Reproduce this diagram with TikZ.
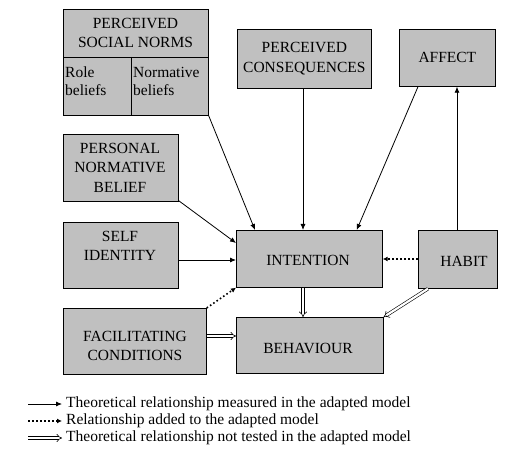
\documentclass[tikz,border=0pt]{standalone}
\usepackage{fontspec}
\newfontfamily\libser{Liberation Serif}
\usetikzlibrary{arrows.meta}
\begin{document}
\begin{tikzpicture}[x=1pt,y=-1pt,
  box/.style={draw=black, line width=0.7pt, fill=boxgray, anchor=north west, inner sep=0pt},
  txt/.style={font=\libser\fontsize{15.5}{19.5}\selectfont, align=center, inner sep=0pt},
  ltxt/.style={font=\libser\fontsize{15.5}{18}\selectfont, align=left, inner sep=0pt, anchor=west},
  solidarr/.style={line width=0.8pt, -{Latex[length=6pt,width=5pt]}},
  dotarr/.style={line width=1.6pt, dash pattern=on 1.6pt off 2.4pt, -{Latex[length=5pt,width=5pt]}},
  dblarr/.style={double, double distance=2.2pt, line width=0.6pt, -{Implies[length=5pt]}}]
\definecolor{boxgray}{RGB}{192,192,192}
\useasboundingbox (0,0) rectangle (527,470);
% boxes
\node[box, minimum width=145pt, minimum height=106pt] (psn) at (63,9) {};
\draw[line width=0.7pt] (63,57) coordinate (d1) -- (208,57) coordinate (d2);
\draw[line width=0.7pt] (131,57) coordinate (d3) -- (131,115) coordinate (d4);
\node[txt] (psnt) at (135.5,33) {PERCEIVED\\SOCIAL NORMS};
\node[ltxt] (role) at (65,81) {Role\\beliefs};
\node[ltxt] (norm) at (133,81) {Normative\\beliefs};

\node[box, minimum width=134pt, minimum height=59pt] (pc) at (237,29) {};
\node[txt] (pct) at (pc.center) {PERCEIVED\\CONSEQUENCES};

\node[box, minimum width=96pt, minimum height=57pt] (aff) at (399,29) {};
\node[txt] (afft) at (aff.center) {AFFECT};

\node[box, minimum width=115pt, minimum height=67pt] (pnb) at (63,134) {};
\node[txt] (pnbt) at (120,167.5) {PERSONAL\\NORMATIVE\\BELIEF};

\node[box, minimum width=115pt, minimum height=66pt] (si) at (63,222) {};
\node[txt] (sit) at (120,246) {SELF\\IDENTITY};

\node[box, minimum width=146pt, minimum height=57pt] (int) at (236,230) {};
\node[txt] (intt) at (308,260) {INTENTION};

\node[box, minimum width=79pt, minimum height=58pt] (hab) at (418,230) {};
\node[txt] (habt) at (464,261) {HABIT};

\node[box, minimum width=143pt, minimum height=66pt] (fc) at (63,308) {};
\node[txt] (fct) at (135,346) {FACILITATING\\CONDITIONS};

\node[box, minimum width=147pt, minimum height=56pt] (beh) at (236,317) {};
\node[txt] (beht) at (308,348) {BEHAVIOUR};

% connectors
\draw[solidarr] (psn.south east) -- ([xshift=19pt]int.north west);
\draw[solidarr] ([yshift=1pt]pnb.south east) -- ([yshift=-13pt]int.north west);
\draw[solidarr] (si.east |- 0,260) -- (int.west |- 0,260);
\draw[solidarr] (pc.south -| 303,0) -- (int.north -| 303,0);
\draw[solidarr] ([xshift=19pt]aff.south west) -- ([xshift=-26pt]int.north east);
\draw[solidarr] (hab.north -| 457,0) -- (aff.south -| 457,0);
\draw[dotarr] (hab.west |- 0,259) -- (int.east |- 0,259);
\draw[dotarr] (fc.north east) -- (int.south west);
\draw[dblarr] (int.south -| 303,0) -- (beh.north -| 303,0);
\draw[dblarr] ([xshift=10pt]hab.south west) -- (beh.north east);
\draw[dblarr] (fc.east |- 0,336) -- (beh.west |- 0,336);

% legend
\coordinate (l1a) at (28,404); \coordinate (l1b) at (62,404);
\coordinate (l2a) at (28,421); \coordinate (l2b) at (62,421);
\coordinate (l3a) at (28,438); \coordinate (l3b) at (62,438);
\draw[solidarr] (l1a) -- (l1b);
\draw[dotarr] (l2a) -- (l2b);
\draw[dblarr] (l3a) -- (l3b);
\node[ltxt] (lg1) at (66,404) {Theoretical relationship measured in the adapted model};
\node[ltxt] (lg2) at (66,421) {Relationship added to the adapted model};
\node[ltxt] (lg3) at (66,438) {Theoretical relationship not tested in the adapted model};
\end{tikzpicture}
\end{document}
